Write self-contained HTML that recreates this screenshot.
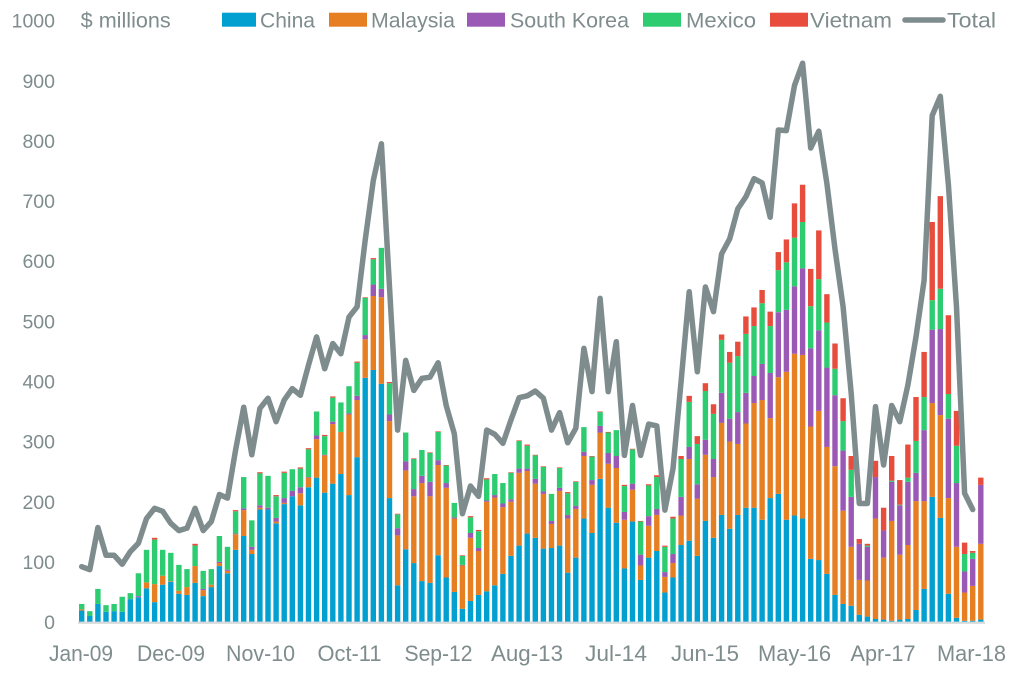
<!DOCTYPE html>
<html>
<head>
<meta charset="utf-8">
<style>
  html, body { margin:0; padding:0; background:#ffffff; }
  body { width:1012px; height:673px; overflow:hidden; }
  svg { display:block; }
  text { font-family: "Liberation Sans", "DejaVu Sans", sans-serif; fill:#7f8c8d; }
</style>
</head>
<body>
<svg id="chart" width="1012" height="673" viewBox="0 0 1012 673" xmlns="http://www.w3.org/2000/svg">
  <!-- Y axis labels -->
  <g font-size="19.5" text-anchor="end">
    <text x="55" y="27.7">1000</text>
    <text x="55" y="87.8">900</text>
    <text x="55" y="147.9">800</text>
    <text x="55" y="208.1">700</text>
    <text x="55" y="268.2">600</text>
    <text x="55" y="328.4">500</text>
    <text x="55" y="388.5">400</text>
    <text x="55" y="448.6">300</text>
    <text x="55" y="508.8">200</text>
    <text x="55" y="568.9">100</text>
    <text x="55" y="629">0</text>
  </g>
  <text x="80.7" y="27.7" font-size="21" textLength="90" lengthAdjust="spacingAndGlyphs">$ millions</text>

  <!-- Legend -->
  <rect x="222" y="12.7" width="34" height="14" fill="#02a0d0"/>
  <text x="260" y="27.7" font-size="21" textLength="55" lengthAdjust="spacingAndGlyphs">China</text>
  <rect x="329" y="12.7" width="38" height="14" fill="#e67e22"/>
  <text x="371" y="27.7" font-size="21" textLength="84" lengthAdjust="spacingAndGlyphs">Malaysia</text>
  <rect x="467" y="12.7" width="38" height="14" fill="#9b59b6"/>
  <text x="510" y="27.7" font-size="21" textLength="119" lengthAdjust="spacingAndGlyphs">South Korea</text>
  <rect x="643" y="12.7" width="38" height="14" fill="#2ecc71"/>
  <text x="686" y="27.7" font-size="21" textLength="70" lengthAdjust="spacingAndGlyphs">Mexico</text>
  <rect x="770" y="12.7" width="38" height="14" fill="#e74c3c"/>
  <text x="810" y="27.7" font-size="21" textLength="82" lengthAdjust="spacingAndGlyphs">Vietnam</text>
  <line x1="905" y1="20" x2="943" y2="20" stroke="#7f8c8d" stroke-width="5.5" stroke-linecap="round"/>
  <text x="947" y="27.7" font-size="21" textLength="49" lengthAdjust="spacingAndGlyphs">Total</text>

  <!-- X axis labels -->
  <g font-size="22" text-anchor="middle">
    <text x="81" y="661" textLength="64" lengthAdjust="spacingAndGlyphs">Jan-09</text>
    <text x="171" y="661" textLength="68" lengthAdjust="spacingAndGlyphs">Dec-09</text>
    <text x="260.5" y="661" textLength="69" lengthAdjust="spacingAndGlyphs">Nov-10</text>
    <text x="349.5" y="661" textLength="64" lengthAdjust="spacingAndGlyphs">Oct-11</text>
    <text x="438.5" y="661" textLength="68" lengthAdjust="spacingAndGlyphs">Sep-12</text>
    <text x="527" y="661" textLength="72" lengthAdjust="spacingAndGlyphs">Aug-13</text>
    <text x="616" y="661" textLength="62" lengthAdjust="spacingAndGlyphs">Jul-14</text>
    <text x="705" y="661" textLength="68" lengthAdjust="spacingAndGlyphs">Jun-15</text>
    <text x="794.5" y="661" textLength="73" lengthAdjust="spacingAndGlyphs">May-16</text>
    <text x="883" y="661" textLength="65" lengthAdjust="spacingAndGlyphs">Apr-17</text>
    <text x="971.5" y="661" textLength="69" lengthAdjust="spacingAndGlyphs">Mar-18</text>
  </g>

  <g id="bars"></g>
  <rect x="78" y="621.6" width="907" height="2.2" fill="#d6d9d9"/>
  <polyline id="total" fill="none" stroke="#7f8c8d" stroke-width="5.5" stroke-linejoin="round" stroke-linecap="round" points=""/>
</svg>
<script>
(function(){
  var d = [
  [19,21,21,30,30],[10,10,10,18,18],[30,30,30,55,55],[17,17,17,28,28],[18,18,18,30,30],
  [17,17,17,42,42],[38,38,38,48,48],[41,41,43,81,81],[56,66,66,120,120],[33,63,63,137,140],
  [62,77,77,120,120],[67,68,68,115,115],[47,52,52,95,95],[45,58,58,88,88],[65,93,93,127,130],
  [43,53,55,85,85],[58,62,62,88,88],[93,98,100,143,143],[81,85,87,125,125],[120,146,147,184,186],
  [143,186,189,241,241],[113,120,125,169,169],[187,190,194,247,249],[187,187,190,243,243],[164,167,173,209,211],
  [196,198,206,248,250],[209,209,218,254,254],[194,214,224,255,257],[224,240,241,287,289],[240,304,310,350,350],
  [215,277,278,309,311],[230,329,333,373,375],[246,316,316,365,365],[211,345,347,392,392],[274,369,376,431,433],
  [406,470,477,539,540],[419,542,561,603,605],[396,540,554,622,622],[206,334,345,397,399],[61,144,156,179,180],
  [121,252,267,315,315],[98,209,221,271,272],[68,231,243,286,286],[65,209,233,281,282],[111,261,269,316,317],
  [74,223,231,260,261],[50,172,174,198,198],[22,94,95,110,111],[35,140,148,174,176],[45,118,123,151,153],
  [51,200,202,237,239],[61,207,211,246,246],[80,191,197,231,231],[110,200,204,248,249],[127,248,255,301,302],
  [147,251,255,293,295],[140,230,238,277,278],[122,213,217,258,259],[123,163,168,213,213],[127,218,223,256,257],
  [82,172,178,214,216],[107,188,193,233,234],[172,276,283,324,324],[148,228,236,275,276],[238,315,326,349,350],
  [190,263,281,315,316],[165,256,276,319,319],[89,170,183,226,228],[167,220,230,287,288],[70,94,112,167,168],
  [107,160,176,227,229],[118,178,188,241,244],[49,75,83,125,127],[74,98,113,172,175],[128,177,208,271,276],
  [135,271,291,366,376],[110,205,229,296,309],[168,278,303,384,397],[140,241,271,346,362],[178,331,381,469,478],
  [155,300,338,431,449],[178,296,349,442,466],[190,330,381,479,508],[190,364,409,492,523],[170,369,429,530,552],
  [206,339,414,492,516],[213,407,515,585,615],[170,416,519,598,636],[177,446,558,639,696],[172,444,588,665,727],
  [105,325,455,525,587],[103,351,485,570,651],[80,291,423,498,545],[45,259,377,421,463],[30,185,285,334,372],
  [27,125,208,253,276],[12,70,130,130,138],[9,69,125,127,130],[5,172,241,241,268],[4,107,152,152,190],
  [2,168,233,235,276],[4,112,194,195,236],[5,128,233,240,295],[20,201,248,301,374],[55,201,319,374,449],
  [208,364,486,535,665],[173,344,487,554,708],[47,206,338,379,510],[7,125,231,293,351],[2,49,84,113,132],
  [2,60,105,115,118],[4,130,228,228,240]
  ];
  var t = [92,87,157,111,111,96,117,131,172,189,184,164,152,156,189,152,167,212,206,286,
           357,278,355,372,333,369,388,377,427,474,421,463,446,507,524,635,734,795,557,319,
           435,385,405,407,431,360,313,180,226,209,319,312,297,336,373,376,384,372,319,348,
           298,322,455,383,538,383,466,277,360,277,329,326,186,255,400,549,416,557,516,612,
           637,687,707,737,730,673,818,817,892,929,788,816,729,620,524,380,197,197,358,261,
           360,333,394,474,568,842,874,727,524,214,187];
  var cols = ['#02a0d0','#e67e22','#9b59b6','#2ecc71','#e74c3c'];
  function Y(v){ return 622 - v*0.6015; }
  var ns = 'http://www.w3.org/2000/svg';
  var g = document.getElementById('bars');
  var step = 8.1, bw = 5.4, x0 = 79;
  for (var i=0;i<d.length;i++){
    var prev = 0, x = x0 + i*step;
    for (var k=0;k<5;k++){
      var top = d[i][k];
      if (top > prev){
        var r = document.createElementNS(ns,'rect');
        var yt = Y(top), yb = Y(prev);
        r.setAttribute('x', x.toFixed(2));
        r.setAttribute('y', yt.toFixed(2));
        r.setAttribute('width', bw);
        r.setAttribute('height', (yb-yt).toFixed(2));
        r.setAttribute('fill', cols[k]);
        g.appendChild(r);
        prev = top;
      }
    }
  }
  var pts = [];
  for (var j=0;j<t.length;j++){
    pts.push((x0 + bw/2 + j*step).toFixed(2)+','+Y(t[j]).toFixed(2));
  }
  document.getElementById('total').setAttribute('points', pts.join(' '));
})();
</script>
</body>
</html>
